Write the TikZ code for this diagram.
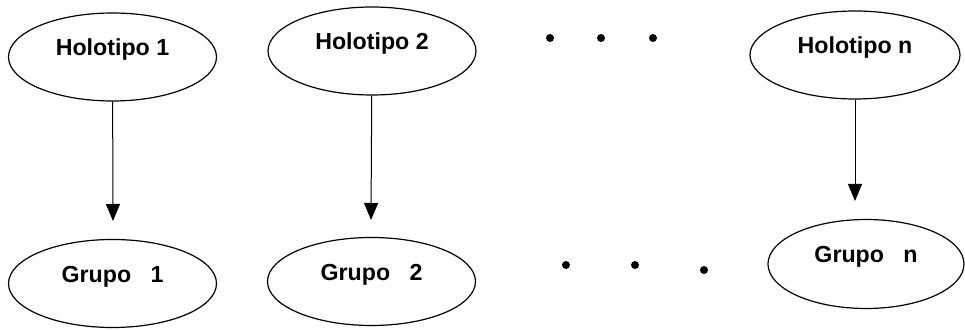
\documentclass[tikz,border=0pt]{standalone}
\usepackage{fontspec}
\setmainfont{Liberation Sans}
\usetikzlibrary{shapes.geometric,arrows.meta}

\tikzset{
  elipse/.style={ellipse, draw, line width=0.6pt, inner sep=2pt,
    minimum width=104pt, minimum height=44pt,
    font=\fontsize{11.6}{14}\selectfont\bfseries,
    text height=9pt, text depth=10pt},
  flecha/.style={line width=0.5pt, -{Triangle[length=8.5pt,width=7pt]}},
  punto/.style={black}
}

\begin{document}
\begin{tikzpicture}[x=0.5pt, y=-0.5pt]
        \useasboundingbox (0,0) rectangle (965,330);

        % Holotipos
        \node[elipse] (h1) at (112.5, 57) {Holotipo 1};
        \node[elipse] (h2) at (372, 51) {Holotipo 2};
        \node[elipse, minimum width=105pt] (hn) at (855, 55) {Holotipo n};

        % Grupos
        \node[elipse] (g1) at (112.5, 283.5) {Grupo~~~1};
        \node[elipse] (g2) at (371.5, 281.5) {Grupo~~~2};
        \node[elipse, minimum width=98pt, minimum height=44.5pt] (gn) at (866, 264) {Grupo~~~n};

        % Puntas de las flechas
        \coordinate (t1) at (113, 221);
        \coordinate (t2) at (371, 220);
        \coordinate (tn) at (855, 201);

        % Flechas
        \draw[flecha] (h1) -- (t1);
        \draw[flecha] (h2) -- (t2);
        \draw[flecha] (hn) -- (tn);

        % Puntos suspensivos
        \foreach \x in {550, 601, 653} \fill[punto] (\x, 38) circle (4);
        \fill[punto] (566, 265) circle (4);
        \fill[punto] (635, 265) circle (4);
        \fill[punto] (704, 270) circle (4);
\end{tikzpicture}
\end{document}
